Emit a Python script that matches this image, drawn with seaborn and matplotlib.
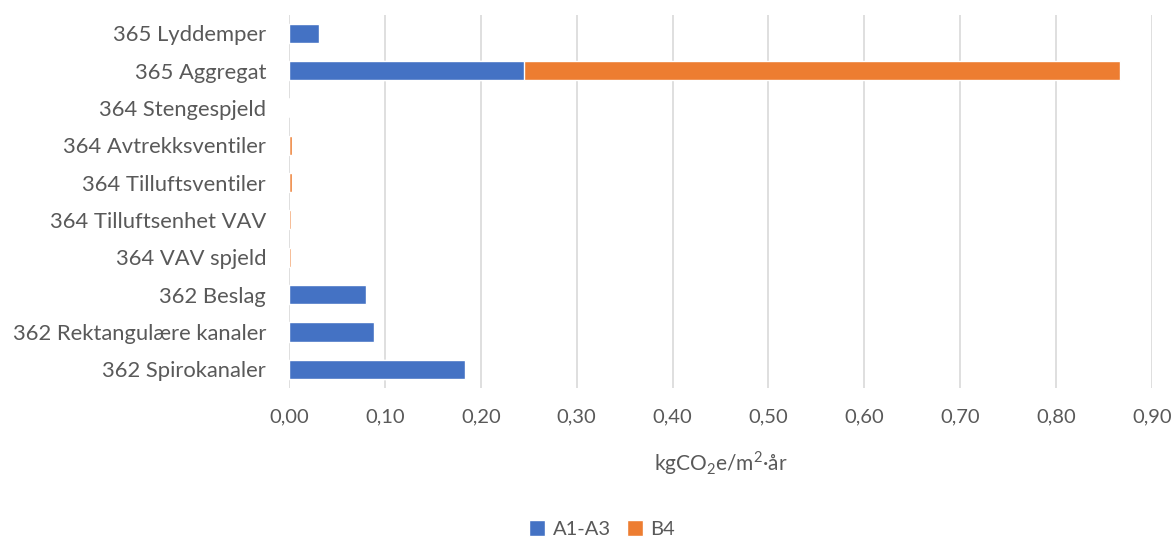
import numpy as np
import pandas as pd
import matplotlib
matplotlib.use("Agg")
import matplotlib.pyplot as plt
from matplotlib.ticker import FuncFormatter, MultipleLocator
from matplotlib.patches import Patch
import seaborn as sns

categories = [
    "365 Lyddemper",
    "365 Aggregat",
    "364 Stengespjeld",
    "364 Avtrekksventiler",
    "364 Tilluftsventiler",
    "364 Tilluftsenhet VAV",
    "364 VAV spjeld",
    "362 Beslag",
    "362 Rektangulære kanaler",
    "362 Spirokanaler",
]
a1_a3 = [0.031, 0.245, 0.0, 0.0, 0.0, 0.0, 0.0, 0.080, 0.089, 0.184]
b4 = [0.0, 0.622, 0.0, 0.003, 0.003, 0.002, 0.002, 0.0, 0.0, 0.0]
series_names = ["A1-A3", "B4"]

blue = "#4472C4"
orange = "#ED7D31"
text_color = "#595959"
grid_color = "#D9D9D9"

sns.set_theme(style="white")
plt.rcParams["font.family"] = ["Lato", "DejaVu Sans"]
plt.rcParams["mathtext.fontset"] = "custom"
plt.rcParams["mathtext.rm"] = "Lato"

df = pd.DataFrame({"category": categories, "A1-A3": a1_a3, "B4": b4})
df["total"] = df["A1-A3"] + df["B4"]

fig = plt.figure(figsize=(11.76, 5.37), dpi=100)
ax = fig.add_axes([289 / 1176, 1 - 388 / 537, (1152 - 289) / 1176, (388 - 14.6) / 537])

# stacked bars: total in orange, A1-A3 drawn over it in blue
sns.barplot(data=df, x="total", y="category", order=categories, color=orange,
            saturation=1, width=0.51, ax=ax, orient="h")
sns.barplot(data=df, x="A1-A3", y="category", order=categories, color=blue,
            saturation=1, width=0.51, ax=ax, orient="h")

ax.set_xlim(0, 0.9)
ax.set_ylim(len(categories) - 0.5, -0.5)
ax.xaxis.set_major_locator(MultipleLocator(0.1))
ax.xaxis.set_major_formatter(FuncFormatter(lambda v, p: f"{v:.2f}".replace(".", ",")))
ax.grid(axis="x", color=grid_color, linewidth=1.2)
ax.set_axisbelow(True)
for s in ax.spines.values():
    s.set_visible(False)
ax.tick_params(axis="both", length=0, colors=text_color)
ax.tick_params(axis="x", pad=15, labelsize=14.5)
ax.tick_params(axis="y", pad=16.5, labelsize=15.8)
ax.set_ylabel("")
ax.set_xlabel(r"kgCO$_\mathregular{2}$e/m$^\mathregular{2}$·år", fontsize=15,
              color=text_color, labelpad=17)

handles = [Patch(facecolor=blue, label=series_names[0]),
           Patch(facecolor=orange, label=series_names[1])]
fig.legend(handles=handles, loc="center", bbox_to_anchor=(602 / 1176, 1 - 529 / 537),
           ncol=2, frameon=False, fontsize=14.5, labelcolor=text_color,
           handlelength=0.8, handleheight=0.8, handletextpad=0.35, columnspacing=0.8)

fig.savefig("out.png", dpi=100, facecolor="white")
